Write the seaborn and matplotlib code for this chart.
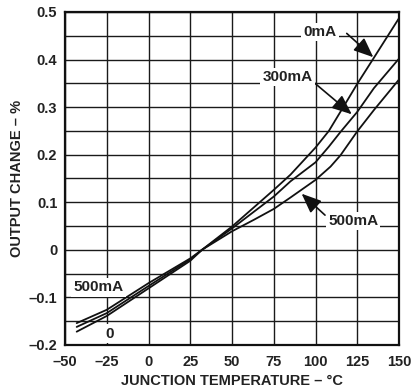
import numpy as np
import pandas as pd
import matplotlib
matplotlib.use("Agg")
import matplotlib.pyplot as plt
import seaborn as sns

# ---- data ----
temp_0mA = [-43, -25, 0, 25, 32, 50, 75, 85, 100, 108, 118, 125, 135, 150]
chg_0mA = [-0.172, -0.139, -0.081, -0.023, 0.0, 0.049, 0.126, 0.158, 0.215, 0.250, 0.308, 0.349, 0.404, 0.487]

temp_300mA = [-43, -25, 0, 25, 32, 50, 75, 85, 100, 108, 115, 125, 135, 150]
chg_300mA = [-0.162, -0.133, -0.076, -0.020, 0.0, 0.045, 0.112, 0.144, 0.184, 0.217, 0.248, 0.290, 0.340, 0.402]

temp_500mA = [-43, -25, 0, 25, 32, 50, 63, 75, 85, 100, 109, 115, 125, 135, 150]
chg_500mA = [-0.154, -0.126, -0.070, -0.018, 0.0, 0.039, 0.063, 0.086, 0.110, 0.147, 0.175, 0.199, 0.249, 0.294, 0.358]

x_tick_vals = [-50, -25, 0, 25, 50, 75, 100, 125, 150]
x_tick_labels = ["\u201350", "\u201325", "0", "25", "50", "75", "100", "125", "150"]
y_tick_vals = [-0.2, -0.15, -0.1, -0.05, 0.0, 0.05, 0.1, 0.15, 0.2, 0.25, 0.3, 0.35, 0.4, 0.45, 0.5]
y_tick_labels = ["\u20130.2", "", "\u20130.1", "", "0", "", "0.1", "", "0.2", "", "0.3", "", "0.4", "", "0.5"]

x_label = "JUNCTION TEMPERATURE \u2013 \u00b0C"
y_label = "OUTPUT CHANGE \u2013 %"

df = pd.concat([
    pd.DataFrame({"temp": temp_0mA, "chg": chg_0mA, "load": "0mA"}),
    pd.DataFrame({"temp": temp_300mA, "chg": chg_300mA, "load": "300mA"}),
    pd.DataFrame({"temp": temp_500mA, "chg": chg_500mA, "load": "500mA"}),
], ignore_index=True)

sns.set_theme(style="white")
plt.rcParams["font.family"] = ["Liberation Sans", "DejaVu Sans"]
plt.rcParams["font.weight"] = "bold"

fig = plt.figure(figsize=(4.12, 3.92), dpi=100)
ax = fig.add_axes([65 / 412, 1 - 345 / 392, 334 / 412, 333 / 392])

sns.lineplot(data=df, x="temp", y="chg", hue="load", units="load", estimator=None,
             palette=["#111111"] * 3, linewidth=1.3, legend=False, ax=ax, sort=False)

ax.set_xlim(-50, 150)
ax.set_ylim(-0.2, 0.5)
ax.set_xticks(x_tick_vals)
ax.set_xticklabels(x_tick_labels)
ax.set_yticks(y_tick_vals)
ax.set_yticklabels(y_tick_labels)
ax.grid(True, color="#1a1a1a", linewidth=1.0)
ax.set_axisbelow(True)
for s in ax.spines.values():
    s.set_color("#111111")
    s.set_linewidth(1.6)
ax.tick_params(axis="both", length=0, labelsize=10.5, colors="#222222")
ax.tick_params(axis="x", pad=7)
ax.tick_params(axis="y", pad=5.5)
for lab in ax.get_xticklabels() + ax.get_yticklabels():
    lab.set_fontweight("bold")

ax.set_xlabel(x_label, fontsize=10.5, fontweight="bold", color="#222222", labelpad=4)
ax.set_ylabel(y_label, fontsize=10.5, fontweight="bold", color="#222222", labelpad=3)

bb = dict(facecolor="white", edgecolor="none", pad=1.5)
tk = dict(fontsize=11, fontweight="bold", color="#222222", ha="center", va="center", bbox=bb)
arrow = dict(arrowstyle="-|>,head_length=1.0,head_width=0.42", color="#111111", lw=1.2,
             shrinkA=0, shrinkB=0)

ax.annotate("", xy=(134.6, 0.405), xytext=(118.7, 0.455), arrowprops=arrow)
ax.text(102.7, 0.458, "0mA", **tk)
ax.annotate("", xy=(121.7, 0.285), xytext=(99.7, 0.35), arrowprops=arrow)
ax.text(83.2, 0.364, "300mA", **tk)
ax.annotate("", xy=(91.7, 0.118), xytext=(105.7, 0.073), arrowprops=arrow)
ax.text(122.5, 0.061, "500mA", **tk)
ax.text(-30, -0.079, "500mA", **tk)
ax.text(-23.3, -0.176, "0", **tk)

fig.savefig("out.png", dpi=100)
